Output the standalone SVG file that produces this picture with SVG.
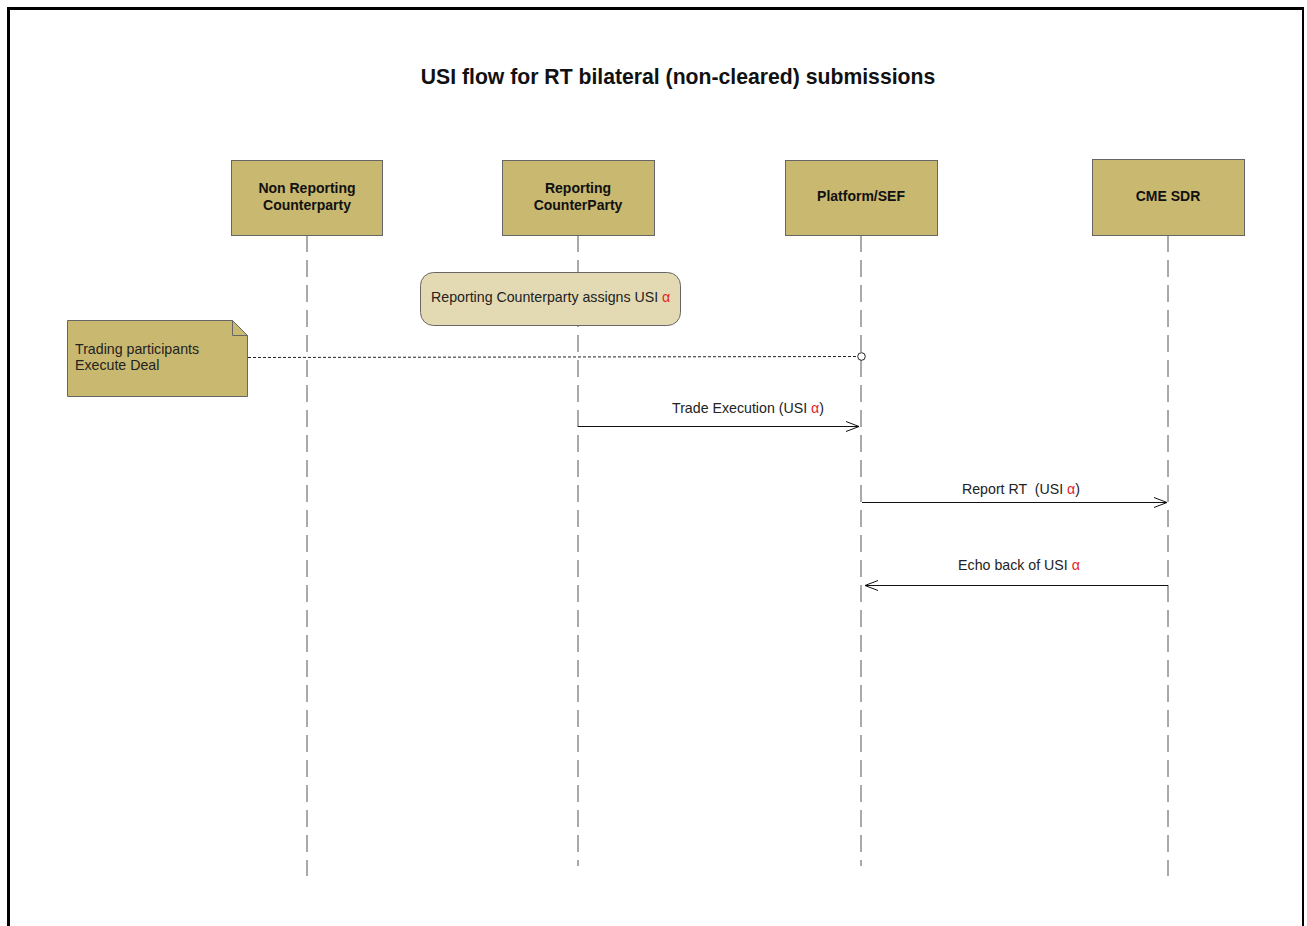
<svg xmlns="http://www.w3.org/2000/svg" width="1307" height="926" viewBox="0 0 1307 926">
  <style>
    .frame { fill: none; stroke: #000; }
    .actor { fill: #c9b870; stroke: #666; stroke-width: 1; }
    .actor-label { font-family: "Liberation Sans", Arial, sans-serif; font-size: 14px; font-weight: bold; fill: #111; text-anchor: middle; }
    .lifeline { stroke: #555; stroke-width: 1; stroke-dasharray: 17 8; fill: none; }
    .msg { stroke: #111; stroke-width: 1; fill: none; }
    .label { font-family: "Liberation Sans", Arial, sans-serif; font-size: 14.2px; fill: #222; }
    .alpha { fill: #e8211f; }
    .title { font-family: "Liberation Sans", Arial, sans-serif; font-size: 21.2px; font-weight: bold; fill: #111; text-anchor: middle; }
  </style>
  <defs>
    <marker id="open-arrow" markerWidth="16" markerHeight="12" refX="14" refY="6" orient="auto" markerUnits="userSpaceOnUse">
      <path d="M1,1 L14,6 L1,11" fill="none" stroke="#111" stroke-width="1"/>
    </marker>
  </defs>

  <rect width="1307" height="926" fill="#fff"/>

  <!-- page frame -->
  <g id="frame">
    <line class="frame" x1="7" y1="8.5" x2="1304" y2="8.5" stroke-width="3"/>
    <line class="frame" x1="8.5" y1="7" x2="8.5" y2="926" stroke-width="3"/>
    <line class="frame" x1="1303" y1="8" x2="1303" y2="926" stroke-width="2"/>
  </g>

  <text id="title" class="title" x="678" y="84">USI flow for RT bilateral (non-cleared) submissions</text>

  <!-- lifelines -->
  <g id="lifelines">
    <line class="lifeline" x1="307" y1="235" x2="307" y2="876"/>
    <line class="lifeline" x1="578" y1="235" x2="578" y2="866"/>
    <line class="lifeline" x1="861" y1="235" x2="861" y2="866"/>
    <line class="lifeline" x1="1168" y1="235" x2="1168" y2="876"/>
  </g>

  <g id="actor-nonreporting">
    <rect class="actor" x="231.5" y="160.5" width="151" height="75"/>
    <text class="actor-label" x="307" y="193">Non Reporting</text>
    <text class="actor-label" x="307" y="210">Counterparty</text>
  </g>
  <g id="actor-reporting">
    <rect class="actor" x="502.5" y="160.5" width="152" height="75"/>
    <text class="actor-label" x="578" y="193">Reporting</text>
    <text class="actor-label" x="578" y="210">CounterParty</text>
  </g>
  <g id="actor-platform">
    <rect class="actor" x="785.5" y="160.5" width="152" height="75"/>
    <text class="actor-label" x="861" y="201">Platform/SEF</text>
  </g>
  <g id="actor-sdr">
    <rect class="actor" x="1092.5" y="159.5" width="152" height="76"/>
    <text class="actor-label" x="1168" y="201">CME SDR</text>
  </g>

  <!-- activity state on the reporting counterparty -->
  <g id="state-assign">
    <rect x="420.5" y="272.5" width="260" height="53" rx="13" ry="13" fill="#e3dab3" stroke="#666" stroke-width="1"/>
    <text class="label" x="431" y="302">Reporting Counterparty assigns USI <tspan class="alpha">α</tspan></text>
  </g>

  <!-- note -->
  <g id="note-deal">
    <path d="M67.5,320.5 H232.5 L247.5,335.5 V396.5 H67.5 Z" fill="#c9b870" stroke="#666" stroke-width="1"/>
    <path d="M232.5,320.5 V335.5 H247.5" fill="none" stroke="#666" stroke-width="1"/>
    <text class="label" x="75" y="354">Trading participants</text>
    <text class="label" x="75" y="370">Execute Deal</text>
  </g>

  <!-- connectors -->
  <g id="connectors">
    <line x1="248" y1="357.5" x2="857" y2="356.5" stroke="#222" stroke-width="1" stroke-dasharray="3 2"/>
    <circle cx="861.5" cy="356.5" r="3.8" fill="#fff" stroke="#222" stroke-width="1"/>

    <line class="msg" x1="578" y1="426.5" x2="859" y2="426.5" marker-end="url(#open-arrow)"/>
    <text class="label" x="748" y="413" text-anchor="middle">Trade Execution (USI <tspan class="alpha">α</tspan>)</text>

    <line class="msg" x1="862" y1="502.5" x2="1167" y2="502.5" marker-end="url(#open-arrow)"/>
    <text class="label" x="1021" y="494" text-anchor="middle" xml:space="preserve">Report RT  (USI <tspan class="alpha">α</tspan>)</text>

    <line class="msg" x1="1168" y1="585.5" x2="865" y2="585.5" marker-end="url(#open-arrow)"/>
    <text class="label" x="1019" y="570" text-anchor="middle">Echo back of USI <tspan class="alpha">α</tspan></text>
  </g>
</svg>
